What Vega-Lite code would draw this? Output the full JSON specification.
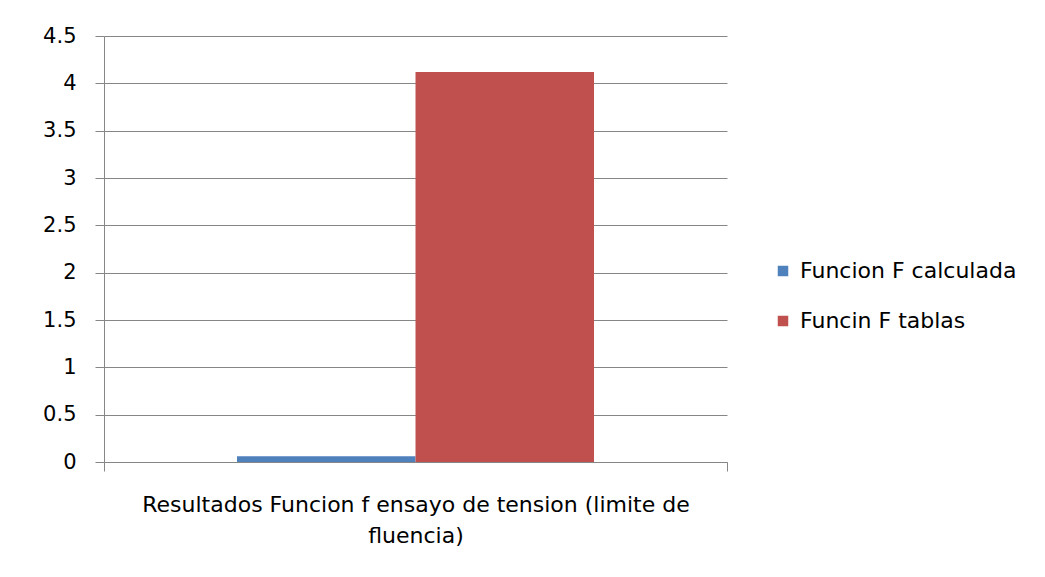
{
  "$schema": "https://vega.github.io/schema/vega-lite/v6.json",
  "width": 623,
  "height": 426,
  "autosize": "none",
  "padding": {"left": 104, "top": 36, "right": 318, "bottom": 115},
  "background": "white",
  "config": {
    "view": {"stroke": null},
    "font": "DejaVu Sans",
    "axis": {"labelFont": "DejaVu Sans", "titleFont": "DejaVu Sans", "labelColor": "#000000", "titleColor": "#000000"},
    "legend": {"labelFont": "DejaVu Sans"}
  },
  "data": {
    "values": [
      {"category": "Resultados Funcion f ensayo de tension (limite de fluencia)", "series": "Funcion F calculada", "value": 0.06},
      {"category": "Resultados Funcion f ensayo de tension (limite de fluencia)", "series": "Funcin F tablas", "value": 4.12}
    ]
  },
  "mark": {"type": "bar"},
  "encoding": {
    "x": {
      "field": "category",
      "type": "nominal",
      "scale": {"paddingInner": 0, "paddingOuter": 0},
      "axis": {
        "labels": false,
        "title": ["Resultados Funcion f ensayo de tension (limite de", "fluencia)"],
        "titleFontSize": 22,
        "titleFontWeight": "normal",
        "titleLineHeight": 31,
        "titlePadding": 23,
        "tickBand": "extent",
        "tickSize": 9,
        "tickColor": "#868686",
        "domainColor": "#868686",
        "grid": false
      }
    },
    "xOffset": {
      "field": "series",
      "type": "nominal",
      "sort": ["Funcion F calculada", "Funcin F tablas"],
      "scale": {"domain": ["Funcion F calculada", "Funcin F tablas"], "paddingInner": 0, "paddingOuter": 0.745}
    },
    "y": {
      "field": "value",
      "type": "quantitative",
      "scale": {"domain": [0, 4.5], "nice": false},
      "axis": {
        "title": null,
        "values": [0, 0.5, 1, 1.5, 2, 2.5, 3, 3.5, 4, 4.5],
        "format": "~g",
        "labelFontSize": 21,
        "labelPadding": 19,
        "tickSize": 9,
        "tickColor": "#868686",
        "domainColor": "#868686",
        "gridColor": "#868686",
        "gridOpacity": 1
      }
    },
    "color": {
      "field": "series",
      "type": "nominal",
      "scale": {"domain": ["Funcion F calculada", "Funcin F tablas"], "range": ["#4F81BD", "#C0504D"]},
      "legend": {
        "title": null,
        "orient": "none",
        "legendX": 668,
        "legendY": 224,
        "padding": 0,
        "symbolType": "square",
        "symbolSize": 110,
        "symbolStrokeWidth": 0,
        "labelFontSize": 22,
        "labelOffset": 6,
        "labelLimit": 400,
        "labelColor": "#000000",
        "rowPadding": 28
      }
    }
  }
}
